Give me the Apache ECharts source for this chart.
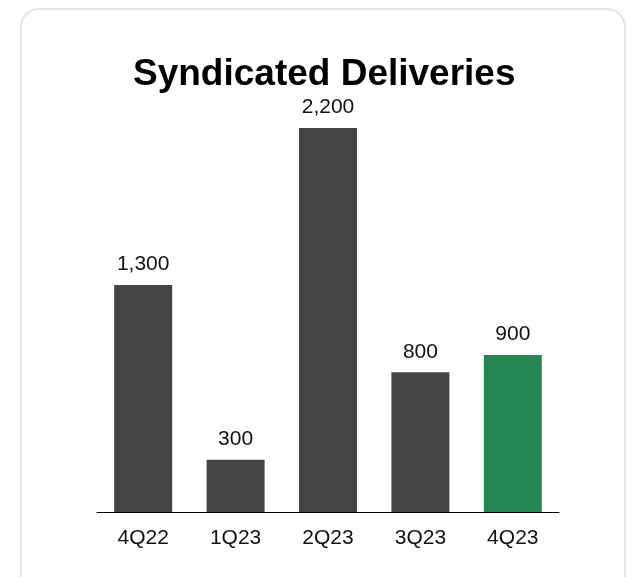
<!DOCTYPE html>
<html>
<head>
<meta charset="utf-8">
<script src="https://cdn.jsdelivr.net/npm/echarts@6/dist/echarts.min.js"></script>
<style>
  html, body { margin: 0; padding: 0; background: #ffffff; }
  #chart { width: 630px; height: 577px; }
</style>
</head>
<body>
<div id="chart"></div>
<script>
// Quarterly syndicated deliveries
var quarters = ['4Q22', '1Q23', '2Q23', '3Q23', '4Q23'];
var deliveries = [1300, 300, 2200, 800, 900];
var highlightQuarter = '4Q23';

var baseColor = '#444444';
var highlightColor = '#268755';
var fontStack = 'Liberation Sans, Arial, sans-serif';

var chart = echarts.init(document.getElementById('chart'), null, { renderer: 'canvas' });

var barData = deliveries.map(function (v, i) {
  return {
    value: v,
    itemStyle: { color: quarters[i] === highlightQuarter ? highlightColor : baseColor }
  };
});

chart.setOption({
  backgroundColor: '#ffffff',
  animation: false,
  textStyle: { fontFamily: fontStack },
  graphic: [{
    type: 'rect',
    shape: { x: 21, y: 9, width: 604, height: 590, r: 18 },
    style: { fill: 'none', stroke: '#e4e4e4', lineWidth: 2 },
    z: -1
  }],
  title: {
    text: 'Syndicated Deliveries',
    left: 133,
    top: 56,
    padding: 0,
    textStyle: {
      fontFamily: fontStack,
      fontSize: 37,
      fontWeight: 'bold',
      color: '#000000'
    }
  },
  grid: { left: 97, right: 71, top: 128, bottom: 65 },
  xAxis: {
    type: 'category',
    data: quarters,
    axisLine: { show: true, lineStyle: { color: '#000000', width: 1.2 } },
    axisTick: { show: false },
    axisLabel: {
      margin: 16,
      fontSize: 21,
      color: '#111111',
      fontFamily: fontStack
    }
  },
  yAxis: {
    type: 'value',
    min: 0,
    max: 2200,
    show: false,
    splitLine: { show: false }
  },
  series: [{
    type: 'bar',
    data: barData,
    barWidth: 58,
    label: {
      show: true,
      position: 'top',
      distance: 10,
      fontSize: 21,
      color: '#111111',
      fontFamily: fontStack,
      formatter: function (p) { return p.value.toLocaleString('en-US'); }
    }
  }]
});
</script>
</body>
</html>
